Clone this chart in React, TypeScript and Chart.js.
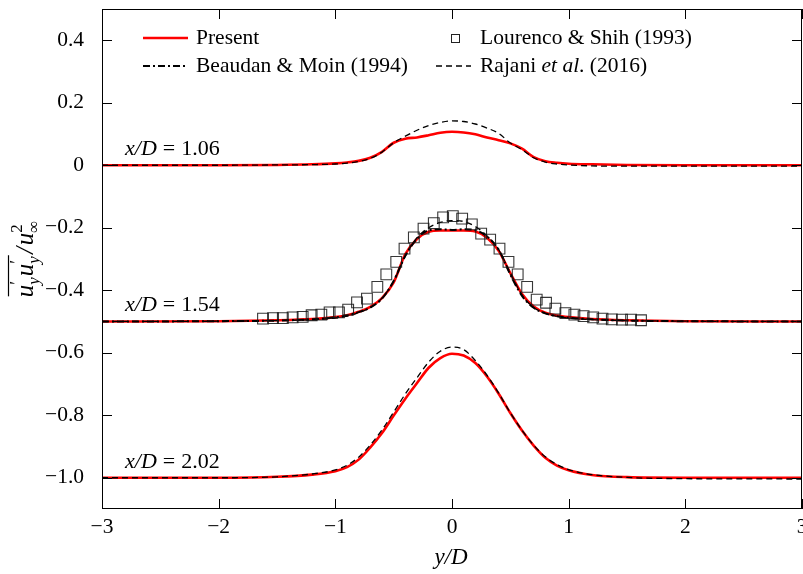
import { useEffect, useRef } from "react";
import { Chart, registerables } from "chart.js";
Chart.register(...registerables);

const FONT = '"Liberation Serif", "Times New Roman", serif';

// shared y/D grid for the line profiles
const gridX = [-3, -2, -1.5, -1.2, -1.0, -0.9, -0.8, -0.7, -0.6, -0.5, -0.4, -0.3, -0.2, -0.1, 0, 0.1, 0.2, 0.3, 0.4, 0.5, 0.6, 0.7, 0.8, 0.9, 1.0, 1.2, 1.5, 2, 3];

// Present (red)
const present106 = [0, 0, 0.001, 0.003, 0.006, 0.009, 0.014, 0.024, 0.043, 0.072, 0.085, 0.089, 0.096, 0.104, 0.107, 0.105, 0.099, 0.089, 0.080, 0.070, 0.053, 0.026, 0.013, 0.008, 0.005, 0.003, 0.001, 0, 0];
const present154 = [-0.5, -0.499, -0.496, -0.492, -0.486, -0.480, -0.469, -0.453, -0.425, -0.375, -0.284, -0.236, -0.213, -0.209, -0.209, -0.209, -0.212, -0.232, -0.274, -0.345, -0.412, -0.452, -0.472, -0.481, -0.486, -0.492, -0.496, -0.499, -0.5];
const present202 = [-1.0, -1.0, -0.997, -0.990, -0.979, -0.966, -0.942, -0.903, -0.857, -0.801, -0.747, -0.697, -0.648, -0.617, -0.603, -0.609, -0.633, -0.676, -0.731, -0.793, -0.849, -0.897, -0.936, -0.961, -0.976, -0.991, -0.998, -1.0, -1.0];

// Beaudan & Moin (1994), x/D = 1.54
const beaudan154 = [-0.5, -0.499, -0.497, -0.493, -0.487, -0.481, -0.470, -0.455, -0.427, -0.370, -0.290, -0.235, -0.208, -0.205, -0.207, -0.205, -0.208, -0.228, -0.270, -0.350, -0.418, -0.456, -0.474, -0.483, -0.488, -0.493, -0.497, -0.499, -0.5];

// Rajani et al. (2016)
const rajani106 = [0, 0, 0.001, 0.002, 0.004, 0.007, 0.012, 0.022, 0.042, 0.072, 0.093, 0.112, 0.127, 0.137, 0.142, 0.140, 0.132, 0.119, 0.102, 0.071, 0.050, 0.024, 0.010, 0.004, 0.001, -0.002, -0.003, -0.003, -0.003];
const rajani154 = [-0.5, -0.499, -0.497, -0.494, -0.489, -0.483, -0.472, -0.455, -0.425, -0.372, -0.290, -0.232, -0.200, -0.183, -0.177, -0.180, -0.196, -0.226, -0.270, -0.345, -0.415, -0.455, -0.474, -0.484, -0.489, -0.494, -0.497, -0.499, -0.5];
const rajani202 = [-1.0, -1.0, -0.997, -0.988, -0.975, -0.960, -0.934, -0.895, -0.847, -0.790, -0.732, -0.680, -0.630, -0.595, -0.582, -0.590, -0.625, -0.672, -0.729, -0.792, -0.848, -0.896, -0.933, -0.958, -0.974, -0.990, -0.999, -1.003, -1.004];

// Lourenco & Shih (1993), x/D = 1.54
const lsX = [-1.62, -1.534, -1.45, -1.366, -1.28, -1.203, -1.12, -1.049, -0.969, -0.89, -0.814, -0.729, -0.64, -0.563, -0.478, -0.407, -0.327, -0.244, -0.156, -0.076, 0.007, 0.087, 0.17, 0.25, 0.327, 0.407, 0.484, 0.563, 0.644, 0.726, 0.806, 0.886, 0.972, 1.049, 1.128, 1.21, 1.29, 1.37, 1.457, 1.535, 1.62];
const lsY = [-0.491, -0.489, -0.489, -0.487, -0.485, -0.48, -0.478, -0.471, -0.471, -0.462, -0.439, -0.427, -0.389, -0.349, -0.309, -0.267, -0.231, -0.203, -0.185, -0.167, -0.163, -0.171, -0.189, -0.219, -0.238, -0.267, -0.309, -0.349, -0.389, -0.43, -0.44, -0.459, -0.473, -0.478, -0.483, -0.487, -0.491, -0.493, -0.494, -0.494, -0.496];

const xTickValues = [-3, -2, -1, 0, 1, 2, 3];
const yTickValues = [-1.0, -0.8, -0.6, -0.4, -0.2, 0, 0.2, 0.4];
const stationLabels = ["1.06", "1.54", "2.02"];
const stationOffsets = [0, -0.5, -1.0];

const RED = "#ff0000";
const DASH = [6, 4];
const DASHDOT = [7, 3, 2, 3];

const fmt = (v: number, digits: number) => {
  if (v === 0) return "0";
  const s = Math.abs(v).toFixed(digits);
  return v < 0 ? "\u2212" + s : s;
};

const pts = (xs: number[], ys: number[]) => xs.map((x, i) => ({ x, y: ys[i] }));

const it = (s: number) => `italic ${s}px ${FONT}`;
const rm = (s: number) => `${s}px ${FONT}`;

const decorPlugin = {
  id: "decor",
  afterDatasetsDraw(chart: any) {
    const ctx = chart.ctx as CanvasRenderingContext2D;
    const { left, right, top, bottom } = chart.chartArea;
    const xs = chart.scales.x;
    const ys = chart.scales.y;
    ctx.save();
    // frame
    ctx.strokeStyle = "#000";
    ctx.lineWidth = 1;
    ctx.strokeRect(left + 0.5, top + 0.5, right - left - 1, bottom - top - 1);
    // inward ticks
    const TL = 10;
    ctx.beginPath();
    for (const v of xTickValues) {
      const px = Math.round(xs.getPixelForValue(v)) + 0.5;
      ctx.moveTo(px, bottom);
      ctx.lineTo(px, bottom - TL);
      ctx.moveTo(px, top);
      ctx.lineTo(px, top + TL);
    }
    for (const v of yTickValues) {
      const py = Math.round(ys.getPixelForValue(v)) + 0.5;
      ctx.moveTo(left, py);
      ctx.lineTo(left + TL, py);
      ctx.moveTo(right, py);
      ctx.lineTo(right - TL, py);
    }
    ctx.stroke();

    ctx.fillStyle = "#000";
    ctx.textBaseline = "middle";
    // station annotations
    stationLabels.forEach((lab, i) => {
      const py = ys.getPixelForValue(stationOffsets[i]) - 16;
      let x = 125;
      ctx.font = it(22);
      ctx.fillText("x/D", x, py);
      x += ctx.measureText("x/D").width + 6;
      ctx.font = rm(22);
      ctx.fillText("=", x, py);
      x += ctx.measureText("=").width + 6;
      ctx.fillText(lab, x, py);
    });

    // legend
    const ds = chart.data.datasets;
    const drawLine = (d: any, x0: number, x1: number, y: number) => {
      ctx.save();
      ctx.strokeStyle = d.borderColor;
      ctx.lineWidth = d.borderWidth;
      ctx.setLineDash(d.borderDash || []);
      ctx.beginPath();
      ctx.moveTo(x0, y);
      ctx.lineTo(x1, y);
      ctx.stroke();
      ctx.restore();
    };
    const LF = 21.5;
    ctx.font = rm(LF);
    drawLine(ds[7], 143, 188, 38);
    ctx.fillText("Present", 196, 38);
    drawLine(ds[4], 143, 188, 66);
    ctx.fillText("Beaudan & Moin (1994)", 196, 66);
    ctx.save();
    ctx.strokeStyle = "#222";
    ctx.lineWidth = 1;
    ctx.strokeRect(451.5, 34.5, 8, 8);
    ctx.restore();
    ctx.fillText("Lourenco & Shih (1993)", 480, 38);
    drawLine(ds[1], 436, 471, 66);
    let lx = 480;
    ctx.font = rm(LF);
    ctx.fillText("Rajani ", lx, 66);
    lx += ctx.measureText("Rajani ").width;
    ctx.font = it(LF);
    ctx.fillText("et al", lx, 66);
    lx += ctx.measureText("et al").width;
    ctx.font = rm(LF);
    ctx.fillText(". (2016)", lx, 66);

    // x title
    ctx.textAlign = "center";
    ctx.font = it(23);
    ctx.fillText("y/D", (left + right) / 2 - 1, 558);
    ctx.textAlign = "left";

    // y title (rotated)
    ctx.textBaseline = "alphabetic";
    const drawTitle = (dry: boolean) => {
      let x = 0;
      const put = (t: string, f: string, dy: number, adv: boolean) => {
        ctx.font = f;
        if (!dry) ctx.fillText(t, x, dy);
        const w = ctx.measureText(t).width;
        if (adv) x += w;
        return w;
      };
      const ovStart = x;
      for (let k = 0; k < 2; k++) {
        put("u", it(25), 0, true);
        const w1 = put("\u2032", rm(18), -10, false);
        const w2 = put("y", it(17), 6, false);
        x += Math.max(w1, w2) + 1;
      }
      const ovEnd = x;
      if (!dry) {
        ctx.beginPath();
        ctx.lineWidth = 1.2;
        ctx.moveTo(ovStart + 1, -24.5);
        ctx.lineTo(ovEnd, -24.5);
        ctx.stroke();
      }
      x += 1.5;
      put("/", it(25), 0, true);
      x += 1.5;
      put("u", it(25), 0, true);
      const a = put("2", rm(17), -11, false);
      const b = put("\u221e", rm(17), 6, false);
      x += Math.max(a, b);
      return x;
    };
    const total = drawTitle(true);
    ctx.translate(33, 259 + total / 2);
    ctx.rotate(-Math.PI / 2);
    drawTitle(false);
    ctx.restore();
  },
};

export default function App() {
  const ref = useRef<HTMLCanvasElement | null>(null);
  useEffect(() => {
    if (!ref.current) return;
    const lineBase = {
      pointRadius: 0,
      fill: false,
      cubicInterpolationMode: "monotone" as const,
      showLine: true,
    };
    const dashed = { ...lineBase, borderColor: "#000", borderWidth: 1.3, borderDash: DASH };
    const red = { ...lineBase, borderColor: RED, borderWidth: 2.6 };
    const chart = new Chart(ref.current, {
      type: "scatter",
      data: {
        datasets: [
          {
            label: "Lourenco & Shih (1993)",
            data: pts(lsX, lsY),
            showLine: false,
            pointStyle: "rect",
            pointRadius: 7.6,
            borderColor: "rgba(20,20,20,0.85)",
            borderWidth: 1.1,
            backgroundColor: "rgba(0,0,0,0)",
          },
          { label: "Rajani et al. (2016)", data: pts(gridX, rajani106), ...dashed },
          { label: "Rajani et al. (2016) 1.54", data: pts(gridX, rajani154), ...dashed },
          { label: "Rajani et al. (2016) 2.02", data: pts(gridX, rajani202), ...dashed },
          { label: "Beaudan & Moin (1994)", data: pts(gridX, beaudan154), ...lineBase, borderColor: "#000", borderWidth: 2, borderDash: DASHDOT },
          { label: "Present 2.02", data: pts(gridX, present202), ...red },
          { label: "Present 1.54", data: pts(gridX, present154), ...red },
          { label: "Present", data: pts(gridX, present106), ...red },
        ] as any,
      },
      options: {
        animation: false,
        responsive: false,
        devicePixelRatio: 1,
        layout: { autoPadding: false, padding: { top: 9, right: 1, left: 0, bottom: 0 } },
        plugins: { legend: { display: false }, tooltip: { enabled: false } },
        scales: {
          x: {
            type: "linear",
            min: -3,
            max: 3,
            grid: { display: false },
            border: { display: false },
            afterBuildTicks: (s: any) => {
              s.ticks = xTickValues.map((v) => ({ value: v }));
            },
            afterFit: (s: any) => {
              s.height = 65;
              s.paddingLeft = 0;
              s.paddingRight = 0;
              s.paddingTop = 0;
              s.paddingBottom = 0;
            },
            ticks: {
              color: "#000",
              font: { family: FONT, size: 21.5 },
              padding: -3,
              maxRotation: 0,
              autoSkip: false,
              callback: (v: any) => fmt(Number(v), 0),
            },
          },
          y: {
            type: "linear",
            min: -1.1,
            max: 0.5,
            grid: { display: false },
            border: { display: false },
            afterBuildTicks: (s: any) => {
              s.ticks = yTickValues.map((v) => ({ value: v }));
            },
            afterFit: (s: any) => {
              s.width = 102;
              s.paddingLeft = 0;
              s.paddingRight = 0;
              s.paddingTop = 0;
              s.paddingBottom = 0;
            },
            ticks: {
              color: "#000",
              font: { family: FONT, size: 21.5 },
              padding: 10,
              autoSkip: false,
              callback: (v: any) => fmt(Number(v), 1),
            },
          },
        },
      },
      plugins: [decorPlugin],
    });
    return () => chart.destroy();
  }, []);
  return (
    <canvas
      ref={ref}
      width={803}
      height={574}
      style={{ position: "absolute", left: 0, top: 0, width: 803, height: 574 }}
    />
  );
}
